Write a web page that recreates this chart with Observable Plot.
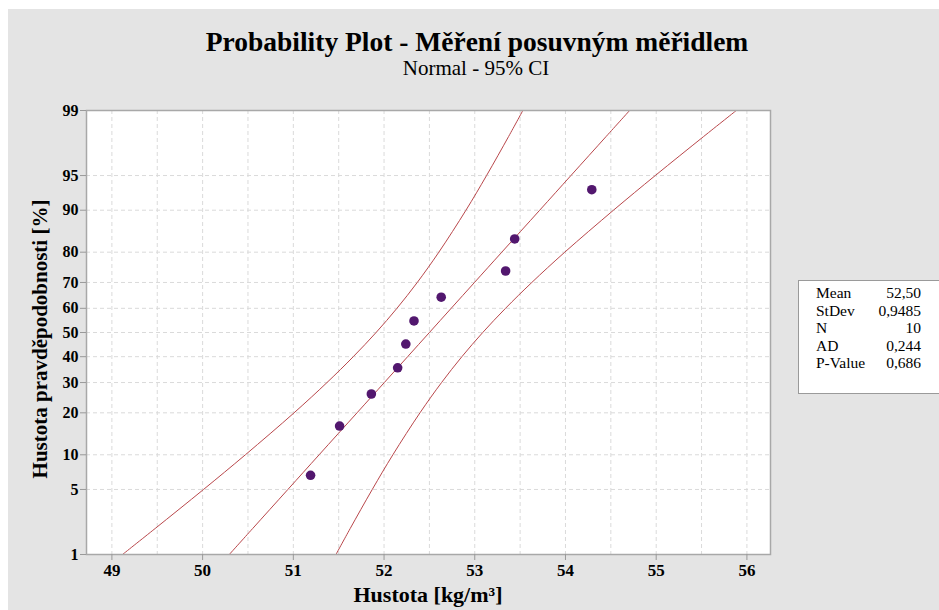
<!DOCTYPE html>
<html><head><meta charset="utf-8">
<script src="https://cdn.jsdelivr.net/npm/d3@7"></script>
<script src="https://cdn.jsdelivr.net/npm/@observablehq/plot@0.6"></script>
<style>
html,body{margin:0;padding:0;background:#fff;}
#wrap{position:relative;width:939px;height:610px;overflow:hidden;}
#bg{position:absolute;left:8px;top:9px;width:931px;height:601px;background:#e4e4e4;}
#chart{position:absolute;left:0;top:0;}
#over{position:absolute;left:0;top:0;}
</style></head><body>
<div id="wrap"><div id="bg"></div><div id="chart"></div><svg id="over" width="939" height="610"></svg></div>
<script>
// ---- data ----
const values   = [51.19, 51.51, 51.86, 52.15, 52.24, 52.33, 52.63, 53.34, 53.44, 54.29];
const percents = [6.73, 16.35, 25.96, 35.58, 45.19, 54.81, 64.42, 74.04, 83.65, 93.27];
const bandPercents = [1, 2, 5, 10, 20, 30, 40, 50, 60, 70, 80, 90, 95, 98, 99];
const lowerX = [49.117, 49.477, 50.010, 50.471, 51.008, 51.371, 51.661, 51.912, 52.142, 52.366, 52.604, 52.903, 53.130, 53.373, 53.530];
const fitX   = [50.294, 50.552, 50.940, 51.284, 51.702, 52.003, 52.260, 52.500, 52.740, 52.997, 53.298, 53.716, 54.060, 54.448, 54.707];
const upperX = [51.470, 51.627, 51.870, 52.097, 52.396, 52.634, 52.858, 53.088, 53.339, 53.629, 53.992, 54.529, 54.990, 55.523, 55.883];
const xTicks = [49, 50, 51, 52, 53, 54, 55, 56];
const xGrid  = [49, 49.5, 50, 50.5, 51, 51.5, 52, 52.5, 53, 53.5, 54, 54.5, 55, 55.5, 56];
const yTickLabels = [1, 5, 10, 20, 30, 40, 50, 60, 70, 80, 90, 95, 99];
const yGridLabels = [5, 10, 20, 30, 40, 50, 60, 70, 80, 90, 95];
const statLabels = ["Mean", "StDev", "N", "AD", "P-Value"];
const statValues = ["52,50", "0,9485", "10", "0,244", "0,686"];
const titleText = "Probability Plot - Měření posuvným měřidlem";
const subtitleText = "Normal - 95% CI";
const xTitle = "Hustota [kg/m³]";
const yTitle = "Hustota pravděpodobnosti [%]";

// inverse normal CDF (probability scale)
function probit(p){
  const a=[-3.969683028665376e+01,2.209460984245205e+02,-2.759285104469687e+02,1.383577518672690e+02,-3.066479806614716e+01,2.506628277459239e+00];
  const b=[-5.447609879822406e+01,1.615858368580409e+02,-1.556989798598866e+02,6.680131188771972e+01,-1.328068155288572e+01];
  const c=[-7.784894002430293e-03,-3.223964580411365e-01,-2.400758277161838e+00,-2.549732539343734e+00,4.374664141464968e+00,2.938163982698783e+00];
  const d=[7.784695709041462e-03,3.224671290700398e-01,2.445134137142996e+00,3.754408661907416e+00];
  const pl=0.02425, ph=1-pl; let q,r;
  if(p<pl){q=Math.sqrt(-2*Math.log(p));return (((((c[0]*q+c[1])*q+c[2])*q+c[3])*q+c[4])*q+c[5])/((((d[0]*q+d[1])*q+d[2])*q+d[3])*q+1);}
  if(p<=ph){q=p-0.5;r=q*q;return (((((a[0]*r+a[1])*r+a[2])*r+a[3])*r+a[4])*r+a[5])*q/(((((b[0]*r+b[1])*r+b[2])*r+b[3])*r+b[4])*r+1);}
  q=Math.sqrt(-2*Math.log(1-p));return -(((((c[0]*q+c[1])*q+c[2])*q+c[3])*q+c[4])*q+c[5])/((((d[0]*q+d[1])*q+d[2])*q+d[3])*q+1);
}
const zOf = p => probit(p / 100);

const pts = values.map((v, i) => ({x: v, z: zOf(percents[i])}));
const band = xs => xs.map((v, i) => ({x: v, z: zOf(bandPercents[i])}));
const yTickZ = yTickLabels.map(zOf);
const yGridZ = yGridLabels.map(zOf);
const labelByZ = new Map(yTickZ.map((z, i) => [z, String(yTickLabels[i])]));

const serif = "'Liberation Serif', 'Times New Roman', serif";
const lineColor = "#b9474b";

const chart = Plot.plot({
  width: 939, height: 610,
  marginLeft: 86, marginRight: 169, marginTop: 110, marginBottom: 56,
  style: {background: "transparent", fontFamily: serif, fontWeight: "bold", fontSize: "15px", color: "black"},
  x: {domain: [48.72, 56.26]},
  y: {domain: [zOf(1), zOf(99)]},
  marks: [
    Plot.frame({fill: "white", stroke: "none"}),
    Plot.gridX(xGrid, {stroke: "#dadada", strokeOpacity: 1, strokeDasharray: "4,3"}),
    Plot.gridY(yGridZ, {stroke: "#dadada", strokeOpacity: 1, strokeDasharray: "4,3"}),
    Plot.line(band(lowerX), {x: "x", y: "z", stroke: lineColor, strokeWidth: 1, curve: "catmull-rom", clip: true}),
    Plot.line(band(fitX),   {x: "x", y: "z", stroke: lineColor, strokeWidth: 1, curve: "catmull-rom", clip: true}),
    Plot.line(band(upperX), {x: "x", y: "z", stroke: lineColor, strokeWidth: 1, curve: "catmull-rom", clip: true}),
    Plot.dot(pts, {x: "x", y: "z", r: 4.8, fill: "#52176e", stroke: "none"}),
    Plot.frame({stroke: "#a8a8a8", strokeWidth: 1.5}),
    Plot.axisX(xTicks, {tickSize: 6, tickPadding: 3, fontSize: "17px", label: null, stroke: "#999", tickFormat: d => String(d)}),
    Plot.axisY(yTickZ, {tickSize: 6, tickPadding: 2, fontSize: "16px", label: null, stroke: "#999", tickFormat: z => labelByZ.get(z)})
  ]
});
document.getElementById("chart").appendChild(chart);

// titles and stats box
const over = d3.select("#over").style("font-family", serif);
over.append("text").attr("x", 477).attr("y", 51).attr("text-anchor", "middle")
  .attr("font-size", 27.5).attr("font-weight", "bold").text(titleText);
over.append("text").attr("x", 476).attr("y", 75).attr("text-anchor", "middle")
  .attr("font-size", 21).text(subtitleText);
over.append("text").attr("x", 428).attr("y", 602).attr("text-anchor", "middle")
  .attr("font-size", 22).attr("font-weight", "bold").text(xTitle);
over.append("text").attr("transform", "translate(47,339) rotate(-90)").attr("text-anchor", "middle")
  .attr("font-size", 21).attr("font-weight", "bold").text(yTitle);

over.append("rect").attr("x", 798.5).attr("y", 280.5).attr("width", 150).attr("height", 113)
  .attr("fill", "white").attr("stroke", "#9a9a9a");
statLabels.forEach((s, i) => {
  const y = 298 + i * 17.6;
  over.append("text").attr("x", 816).attr("y", y).attr("font-size", 15.5).attr("font-family", serif).text(s);
  over.append("text").attr("x", 921).attr("y", y).attr("font-size", 15.5).attr("font-family", serif).attr("text-anchor", "end").text(statValues[i]);
});
</script>
</body></html>
